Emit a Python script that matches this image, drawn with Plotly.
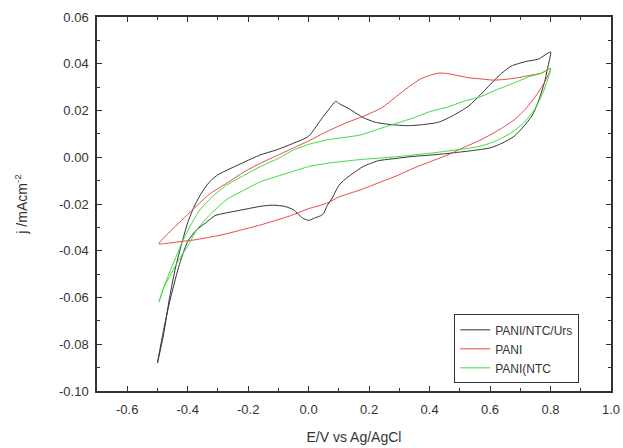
import plotly.graph_objects as go

# PANI/NTC/Urs (black) - anodic then cathodic sweep
urs_x = [-0.50, -0.48, -0.46, -0.44, -0.42, -0.40, -0.38, -0.36, -0.34, -0.32, -0.30, -0.27, -0.22, -0.16, -0.11,
         -0.05, 0.00, 0.04, 0.07, 0.09, 0.10, 0.13, 0.18, 0.22, 0.27, 0.33, 0.38, 0.43, 0.48, 0.53, 0.57, 0.60,
         0.63, 0.67, 0.72, 0.76, 0.80,
         0.79, 0.78, 0.76, 0.74, 0.71, 0.68, 0.64, 0.60, 0.55, 0.50, 0.45, 0.40, 0.34, 0.29, 0.23, 0.18, 0.14,
         0.12, 0.10, 0.08, 0.06, 0.05, 0.04, 0.02, 0.00, -0.02, -0.05, -0.08, -0.12, -0.16, -0.20, -0.24, -0.28,
         -0.31, -0.34, -0.37, -0.40, -0.43, -0.46, -0.48, -0.50]
urs_y = [-0.088, -0.076, -0.060, -0.047, -0.037, -0.028, -0.0215, -0.0165, -0.0125, -0.0095, -0.0075, -0.0055,
         -0.0025, 0.001, 0.003, 0.006, 0.009, 0.016, 0.021, 0.024, 0.023, 0.021, 0.017, 0.015, 0.014, 0.0135,
         0.014, 0.015, 0.018, 0.022, 0.027, 0.031, 0.035, 0.039, 0.041, 0.042, 0.045,
         0.038, 0.032, 0.024, 0.018, 0.013, 0.009, 0.006, 0.004, 0.003, 0.0022, 0.0015, 0.0009, 0.0003, -0.0005,
         -0.0015, -0.004, -0.0075, -0.0095, -0.012, -0.017, -0.021, -0.024, -0.025, -0.026, -0.027, -0.026,
         -0.0225, -0.021, -0.0205, -0.021, -0.022, -0.023, -0.024, -0.025, -0.028, -0.031, -0.036, -0.047,
         -0.062, -0.074, -0.088]

# PANI (red)
pani_x = [-0.495, -0.46, -0.42, -0.38, -0.33, -0.27, -0.21, -0.16, -0.10, -0.05, 0.00, 0.06, 0.12, 0.18, 0.24,
          0.29, 0.33, 0.37, 0.40, 0.43, 0.46, 0.49, 0.53, 0.57, 0.61, 0.65, 0.69, 0.73, 0.77, 0.80,
          0.78, 0.75, 0.72, 0.68, 0.62, 0.57, 0.51, 0.46, 0.40, 0.35, 0.29, 0.24, 0.17, 0.10, 0.06, 0.00, -0.06,
          -0.16, -0.22, -0.28, -0.34, -0.38, -0.42, -0.46, -0.495]
pani_y = [-0.037, -0.032, -0.027, -0.022, -0.016, -0.011, -0.006, -0.0026, 0.001, 0.004, 0.007, 0.011, 0.0145,
          0.0175, 0.021, 0.026, 0.030, 0.0335, 0.035, 0.036, 0.0358, 0.035, 0.034, 0.0335, 0.033, 0.0333, 0.034,
          0.035, 0.036, 0.038,
          0.032, 0.026, 0.021, 0.016, 0.011, 0.0075, 0.004, 0.001, -0.002, -0.0045, -0.008, -0.0105, -0.014,
          -0.017, -0.0197, -0.022, -0.025, -0.029, -0.031, -0.033, -0.0345, -0.0354, -0.036, -0.0367, -0.037]

# PANI(NTC (green)
ntc_x = [-0.495, -0.47, -0.44, -0.415, -0.39, -0.36, -0.32, -0.27, -0.21, -0.16, -0.10, -0.05, 0.00, 0.06, 0.12,
         0.17, 0.23, 0.29, 0.35, 0.40, 0.46, 0.51, 0.57, 0.62, 0.68, 0.73, 0.77, 0.80,
         0.79, 0.776, 0.75, 0.71, 0.67, 0.62, 0.57, 0.51, 0.45, 0.40, 0.35, 0.29, 0.23, 0.17, 0.10, 0.06, 0.00,
         -0.05, -0.10, -0.16, -0.22, -0.27, -0.33, -0.37, -0.40, -0.43, -0.46, -0.48, -0.495]
ntc_y = [-0.0618, -0.0525, -0.043, -0.0354, -0.029, -0.0226, -0.017, -0.0118, -0.0075, -0.004, -0.0005, 0.0031,
         0.0055, 0.0074, 0.0085, 0.0095, 0.012, 0.0145, 0.017, 0.0195, 0.0215, 0.0238, 0.026, 0.0288, 0.0318,
         0.0345, 0.036, 0.038,
         0.033, 0.028, 0.021, 0.0145, 0.0105, 0.007, 0.0048, 0.0035, 0.0025, 0.0017, 0.001, 0.0002, -0.0004,
         -0.001, -0.002, -0.0026, -0.004, -0.006, -0.008, -0.0105, -0.0145, -0.018, -0.025, -0.031, -0.038,
         -0.044, -0.051, -0.056, -0.0618]

names = ["PANI/NTC/Urs", "PANI", "PANI(NTC"]
colors = ["#333333", "#e8484a", "#3ddc3d"]

x_tickvals = [-0.6, -0.4, -0.2, 0.0, 0.2, 0.4, 0.6, 0.8, 1.0]
x_ticktext = ["-0.6", "-0.4", "-0.2", "0.0", "0.2", "0.4", "0.6", "0.8", "1.0"]
y_tickvals = [-0.10, -0.08, -0.06, -0.04, -0.02, 0.00, 0.02, 0.04, 0.06]
y_ticktext = ["-0.10", "-0.08", "-0.06", "-0.04", "-0.02", "0.00", "0.02", "0.04", "0.06"]

fig = go.Figure()
for xs, ys, nm, c in [(urs_x, urs_y, names[0], colors[0]),
                      (pani_x, pani_y, names[1], colors[1]),
                      (ntc_x, ntc_y, names[2], colors[2])]:
    fig.add_trace(go.Scatter(x=xs, y=ys, mode="lines", name=nm,
                             line=dict(color=c, width=1, shape="spline", smoothing=0.6)))

FONT = "Liberation Sans, Arial"
axis_common = dict(showline=True, linecolor="#333333", linewidth=1.5, mirror="allticks",
                   ticks="inside", ticklen=5, tickwidth=1.2, tickcolor="#333333",
                   showgrid=False, zeroline=False, automargin=False,
                   tickfont=dict(family=FONT, size=13, color="#333333"))

fig.update_xaxes(range=[-0.7, 1.0], tickmode="array", tickvals=x_tickvals, ticktext=x_ticktext,
                 ticklabelstandoff=6,
                 minor=dict(dtick=0.1, tick0=-0.7, ticks="inside", ticklen=3, tickcolor="#333333"),
                 title=dict(text="E/V vs Ag/AgCl", font=dict(family=FONT, size=14, color="#333333"),
                            standoff=16),
                 **axis_common)
fig.update_yaxes(range=[-0.10, 0.06], tickmode="array", tickvals=y_tickvals, ticktext=y_ticktext,
                 ticklabelstandoff=4,
                 minor=dict(dtick=0.01, tick0=-0.10, ticks="inside", ticklen=3, tickcolor="#333333"),
                 title=dict(text="j /mAcm<sup>-2</sup>", font=dict(family=FONT, size=14, color="#333333"),
                            standoff=28),
                 **axis_common)

fig.update_layout(
    width=623, height=448,
    margin=dict(l=97, r=12, t=17, b=57),
    plot_bgcolor="white", paper_bgcolor="white",
    legend=dict(x=0.695, y=0.205, xanchor="left", yanchor="top",
                bordercolor="#333333", borderwidth=1, bgcolor="white",
                font=dict(family=FONT, size=12, color="#333333"),
                tracegroupgap=0, itemwidth=30),
)

fig.write_html("out.html")
